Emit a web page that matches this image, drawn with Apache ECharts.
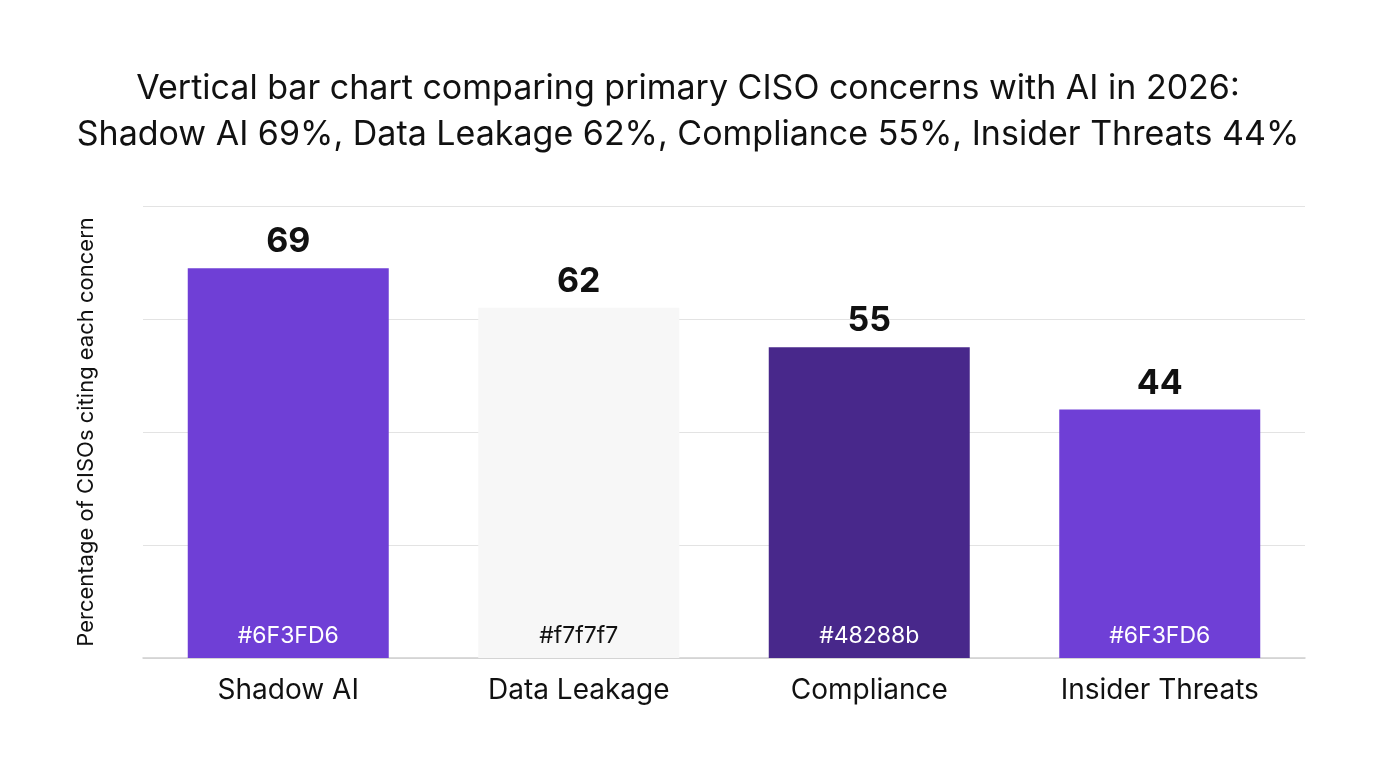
<!DOCTYPE html>
<html>
<head>
<meta charset="utf-8">
<title>CISO concerns with AI 2026</title>
<script src="https://cdn.jsdelivr.net/npm/echarts@6/dist/echarts.min.js"></script>
<style>
  html, body { margin: 0; padding: 0; background: #fff; }
  #myChart { width: 1376px; height: 768px; }
</style>
</head>
<body>
<div id="myChart"></div>
<script>
const categories = ['Shadow AI', 'Data Leakage', 'Compliance', 'Insider Threats']
const values = [69, 62, 55, 44]
const barColors = ['#6F3FD6', '#f7f7f7', '#48288b', '#6F3FD6']
const hexLabelColors = ['#ffffff', '#111111', '#ffffff', '#ffffff']

const font = 'Inter, "Noto Sans", sans-serif'
const myChart = echarts.init(document.getElementById('myChart'))

const option = {
  backgroundColor: '#fff',
  textStyle: { fontFamily: font },
  title: {
    text: 'Vertical bar chart comparing primary CISO concerns with AI in 2026:\nShadow AI 69%, Data Leakage 62%, Compliance 55%, Insider Threats 44%',
    left: 'center',
    top: 61,
    textStyle: {
      fontFamily: font,
      fontSize: 34,
      fontWeight: 'normal',
      color: '#111',
      lineHeight: 46
    }
  },
  grid: {
    left: 143,
    right: 71,
    top: 206,
    bottom: 110
  },
  xAxis: {
    type: 'category',
    data: categories,
    axisTick: { show: false },
    axisLine: { lineStyle: { color: '#cfcfcf', width: 1.5 } },
    axisLabel: {
      fontFamily: font,
      fontSize: 28,
      color: '#111',
      margin: 19
    }
  },
  yAxis: {
    type: 'value',
    min: 0,
    max: 80,
    interval: 20,
    name: 'Percentage of CISOs citing each concern',
    nameLocation: 'middle',
    nameGap: 46,
    nameTextStyle: {
      fontFamily: font,
      fontSize: 22,
      color: '#111'
    },
    axisLabel: { show: false },
    axisLine: { show: false },
    axisTick: { show: false },
    splitLine: { lineStyle: { color: '#e3e3e3', width: 1.2 } }
  },
  series: [
    {
      type: 'bar',
      data: values.map((v, i) => ({ value: v, itemStyle: { color: barColors[i] } })),
      barWidth: 201,
      label: {
        show: true,
        position: 'top',
        distance: 9,
        fontFamily: font,
        fontSize: 34,
        fontWeight: 'bold',
        color: '#111'
      },
      z: 2
    },
    {
      type: 'bar',
      data: values.map((v, i) => ({ value: v, label: { color: hexLabelColors[i] } })),
      barWidth: 201,
      barGap: '-100%',
      silent: true,
      itemStyle: { color: 'rgba(0,0,0,0)' },
      label: {
        show: true,
        position: 'insideBottom',
        distance: 10,
        fontFamily: font,
        fontSize: 23,
        formatter: p => barColors[p.dataIndex]
      },
      z: 3
    }
  ]
}

myChart.setOption(option)
</script>
</body>
</html>
